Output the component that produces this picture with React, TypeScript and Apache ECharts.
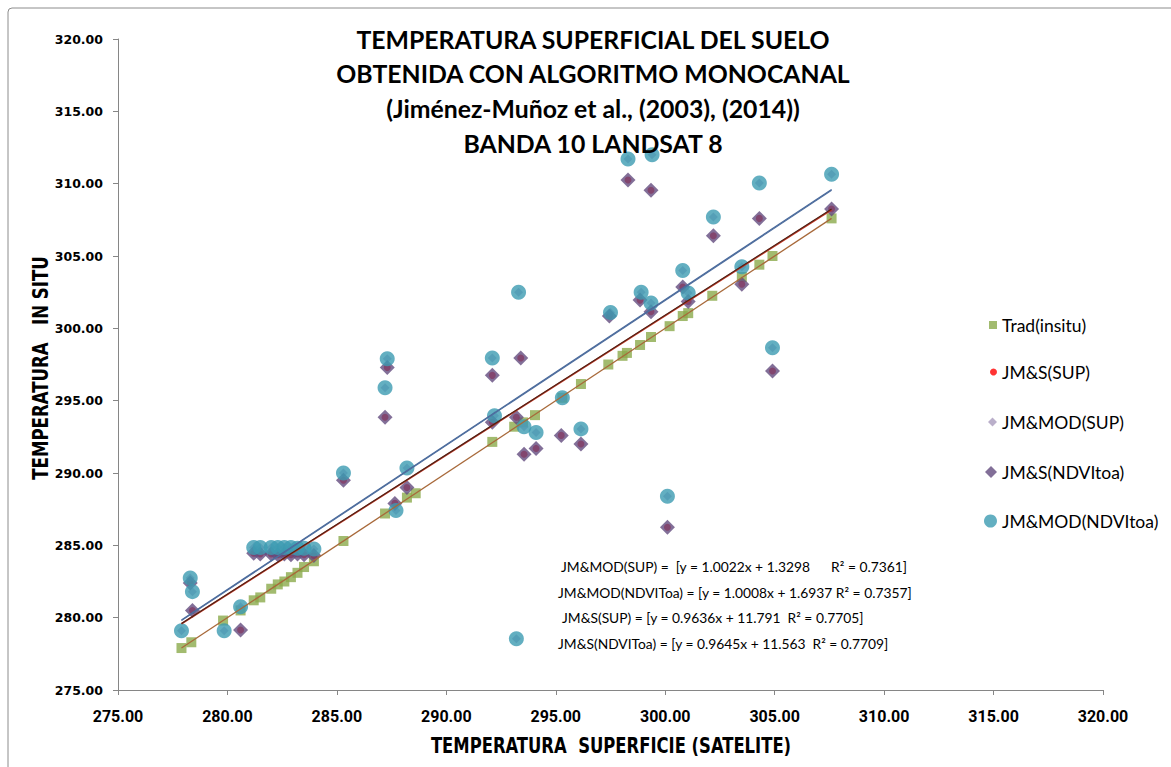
import React, { useEffect, useRef } from "react";
import * as echarts from "echarts";

// ---------- data ----------
const tradPts: [number, number][] = [
  [277.9, 277.9], [278.35, 278.3], [279.8, 279.8], [280.6, 280.5], [281.2, 281.2],
  [281.5, 281.4], [282.0, 282.0], [282.3, 282.3], [282.6, 282.5], [282.9, 282.8],
  [283.2, 283.1], [283.5, 283.5], [283.95, 283.9], [285.3, 285.3], [287.2, 287.2],
  [288.2, 288.3], [288.6, 288.6], [292.1, 292.15], [293.1, 293.2], [293.5, 293.5],
  [294.05, 294.0], [295.3, 295.2], [296.15, 296.15], [297.4, 297.5], [298.05, 298.1],
  [298.25, 298.3], [298.85, 298.85], [299.35, 299.4], [300.2, 300.15], [300.8, 300.85],
  [301.05, 301.05], [302.15, 302.25], [303.5, 303.55], [304.3, 304.4], [304.9, 305.0],
  [307.6, 307.6],
];

const jmsNdviPts: [number, number][] = [
  [278.3, 282.4], [278.4, 280.5], [280.6, 279.15],
  [281.2, 284.45], [281.5, 284.4], [282.0, 284.4], [282.3, 284.35], [282.6, 284.4],
  [282.9, 284.35], [283.2, 284.4], [283.5, 284.35], [283.95, 284.3],
  [285.3, 289.5], [287.2, 293.85], [287.3, 297.3], [287.65, 287.9], [288.2, 289.0],
  [292.1, 296.75], [292.1, 293.5], [293.2, 293.85], [293.4, 297.95], [293.55, 291.3],
  [294.1, 291.7], [295.25, 292.6], [296.15, 292.0], [297.45, 300.85], [298.3, 310.25],
  [298.85, 301.95], [299.35, 301.15], [299.35, 309.55], [300.1, 286.25], [300.8, 302.85],
  [301.05, 301.85], [302.2, 306.4], [303.5, 303.05], [304.3, 307.6], [304.9, 297.05],
  [307.6, 308.25],
];

const jmModNdviPts: [number, number][] = [
  [277.9, 279.1], [278.3, 282.75], [278.4, 281.8], [279.85, 279.1], [280.6, 280.75],
  [281.2, 284.85], [281.5, 284.85], [282.0, 284.85], [282.3, 284.85], [282.6, 284.85],
  [282.9, 284.85], [283.2, 284.8], [283.5, 284.8], [283.95, 284.75],
  [285.3, 290.0], [287.2, 295.9], [287.3, 297.9], [287.7, 287.4], [288.2, 290.35],
  [292.1, 297.95], [292.2, 293.95], [293.2, 278.55], [293.3, 302.5], [293.55, 293.2],
  [294.1, 292.8], [295.3, 295.2], [296.15, 293.05], [297.5, 301.1], [298.3, 311.7],
  [298.9, 302.5], [299.35, 301.75], [299.4, 312.0], [300.1, 288.4], [300.8, 304.0],
  [301.05, 302.45], [302.2, 307.7], [303.5, 304.25], [304.3, 310.05], [304.9, 298.65],
  [307.6, 310.65],
];

// SUP series are hidden beneath the NDVItoa markers in the reference
const jmsSupPts: [number, number][] = jmsNdviPts;
const jmModSupPts: [number, number][] = jmModNdviPts;

// trendline end points
const trendTrad: [number, number][] = [[277.9, 277.9], [307.6, 307.6]];
const trendJmsSup: [number, number][] = [[277.9, 279.58], [307.6, 308.2]];
const trendJmsNdvi: [number, number][] = [[277.9, 279.6], [307.6, 308.25]];
const trendJmModSup: [number, number][] = [[277.9, 279.84], [307.6, 309.6]];
const trendJmModNdvi: [number, number][] = [[277.9, 279.8], [307.6, 309.54]];

const titleLines = [
  "TEMPERATURA SUPERFICIAL DEL SUELO",
  "OBTENIDA CON ALGORITMO MONOCANAL",
  "(Jiménez-Muñoz et al., (2003), (2014))",
  "BANDA 10 LANDSAT 8",
];

const equations = [
  "JM&MOD(SUP) =  [y = 1.0022x + 1.3298      R² = 0.7361]",
  "JM&MOD(NDVIToa) = [y = 1.0008x + 1.6937 R² = 0.7357]",
  "JM&S(SUP) = [y = 0.9636x + 11.791  R² = 0.7705]",
  "JM&S(NDVIToa) = [y = 0.9645x + 11.563  R² = 0.7709]",
];

const xAxisTitle = "TEMPERATURA  SUPERFICIE (SATELITE)";
const yAxisTitle = "TEMPERATURA   IN SITU";

const seriesNames = ["Trad(insitu)", "JM&S(SUP)", "JM&MOD(SUP)", "JM&S(NDVItoa)", "JM&MOD(NDVItoa)"];

// ---------- styles ----------
const CAL = "Lato, 'Open Sans', sans-serif";
const NARROW = "'DejaVu Sans Condensed', 'DejaVu Sans', sans-serif";
const GREEN = "#8BAA4B";
const RED = "#FF0000";
const LILAC = "#A99BBD";
const PURPLE = "#634B7E";
const CYAN = "#3C9BB2";

export default function App() {
  const ref = useRef<HTMLDivElement>(null);

  useEffect(() => {
    if (!ref.current) return;
    const chart = echarts.init(ref.current, undefined, { renderer: "svg" });

    const legendSpec = [
      { name: seriesNames[0], icon: "rect", size: 8, y: 320 },
      { name: seriesNames[1], icon: "circle", size: 7, y: 367 },
      { name: seriesNames[2], icon: "diamond", size: 9, y: 417 },
      { name: seriesNames[3], icon: "diamond", size: 12, y: 467 },
      { name: seriesNames[4], icon: "circle", size: 13, y: 516 },
    ];
    const textLeft = 997;

    const axisCommon = {
      type: "value" as const,
      min: 275,
      max: 320,
      interval: 5,
      splitLine: { show: false },
      axisLine: { show: true, lineStyle: { color: "#868686", width: 1 } },
      axisTick: { show: true, length: 5, lineStyle: { color: "#868686" } },
    };

    chart.setOption({
      animation: false,
      backgroundColor: "#ffffff",
      grid: { left: 118, right: 68, top: 39, bottom: 77 },
      xAxis: {
        ...axisCommon,
        axisLabel: {
          formatter: (v: number) => v.toFixed(2),
          fontFamily: "Roboto, sans-serif",
          fontWeight: "bold",
          fontSize: 16,
          color: "#000",
          margin: 18,
          showMaxLabel: true,
          showMinLabel: true,
        },
      },
      yAxis: {
        ...axisCommon,
        axisLabel: {
          formatter: (v: number) => v.toFixed(2),
          fontFamily: "'DejaVu Sans', sans-serif",
          fontWeight: "bold",
          fontSize: 12.5,
          color: "#000",
          margin: 15,
          showMaxLabel: true,
          showMinLabel: true,
        },
      },
      legend: legendSpec.map((l) => ({
        data: [{ name: l.name, icon: l.icon }],
        orient: "vertical",
        left: textLeft - 5 - l.size,
        top: l.y - 10,
        itemWidth: l.size,
        itemHeight: l.size,
        selectedMode: false,
        textStyle: { fontFamily: CAL, fontSize: 17.5, color: "#000", lineHeight: 20 },
      })),
      graphic: [
        {
          type: "rect",
          shape: { x: 8, y: 8, width: 1300, height: 900, r: 4 },
          style: { fill: "none", stroke: "#8c8c8c", lineWidth: 1 },
          silent: true,
          z: -10,
        },
        ...titleLines.map((t, i) => ({
          type: "text",
          x: 593,
          y: 39 + i * 34.7,
          style: {
            text: t,
            textAlign: "center",
            textVerticalAlign: "middle",
            fontFamily: CAL,
            fontWeight: "bold",
            fontSize: 24.8,
            fill: "#000",
          },
          z: 100,
        })),
        {
          type: "text",
          x: 611,
          y: 745,
          scaleX: 0.83,
          style: {
            text: xAxisTitle,
            textAlign: "center",
            textVerticalAlign: "middle",
            fontFamily: NARROW,
            fontWeight: "bold",
            fontSize: 22,
            fill: "#000",
          },
          z: 100,
        },
        {
          type: "text",
          x: 40,
          y: 368,
          rotation: Math.PI / 2,
          scaleX: 0.84,
          style: {
            text: yAxisTitle,
            textAlign: "center",
            textVerticalAlign: "middle",
            fontFamily: NARROW,
            fontWeight: "bold",
            fontSize: 22,
            fill: "#000",
          },
          z: 100,
        },
        ...equations.map((t, i) => ({
          type: "text",
          x: [561, 558, 562, 558][i],
          y: [566, 592, 617, 643][i],
          style: {
            text: t,
            textVerticalAlign: "middle",
            fontFamily: CAL,
            fontSize: 13.8,
            fill: "#000",
          },
          z: 100,
        })),
      ],
      series: [
        {
          name: seriesNames[0],
          type: "scatter",
          symbol: "rect",
          symbolSize: 10,
          itemStyle: { color: GREEN },
          data: tradPts,
          z: 2,
        },
        {
          name: seriesNames[1],
          type: "scatter",
          symbol: "circle",
          symbolSize: 7,
          itemStyle: { color: RED },
          data: jmsSupPts,
          z: 2,
        },
        {
          name: seriesNames[2],
          type: "scatter",
          symbol: "diamond",
          symbolSize: 9,
          itemStyle: { color: LILAC },
          data: jmModSupPts,
          z: 2,
        },
        {
          name: seriesNames[3],
          type: "scatter",
          symbol: "diamond",
          symbolSize: 15,
          itemStyle: { color: PURPLE },
          data: jmsNdviPts,
          z: 2,
        },
        {
          name: seriesNames[4],
          type: "scatter",
          symbol: "circle",
          symbolSize: 15,
          itemStyle: { color: CYAN },
          data: jmModNdviPts,
          z: 2,
        },
        ...[
          { d: trendTrad, c: "#A8693A", w: 1.3 },
          { d: trendJmModSup, c: "#4A6A9C", w: 1.3 },
          { d: trendJmModNdvi, c: "#4F6E9E", w: 1.2 },
          { d: trendJmsSup, c: "#C0301E", w: 1.6 },
          { d: trendJmsNdvi, c: "#4A2418", w: 1.1 },
        ].map((t) => ({
          type: "line",
          data: t.d,
          symbol: "none",
          lineStyle: { color: t.c, width: t.w },
          silent: true,
          z: 5,
        })),
      ],
    });

    return () => chart.dispose();
  }, []);

  return (
    <div
      ref={ref}
      style={{ position: "absolute", left: 0, top: 0, width: 1171, height: 767 }}
    />
  );
}
